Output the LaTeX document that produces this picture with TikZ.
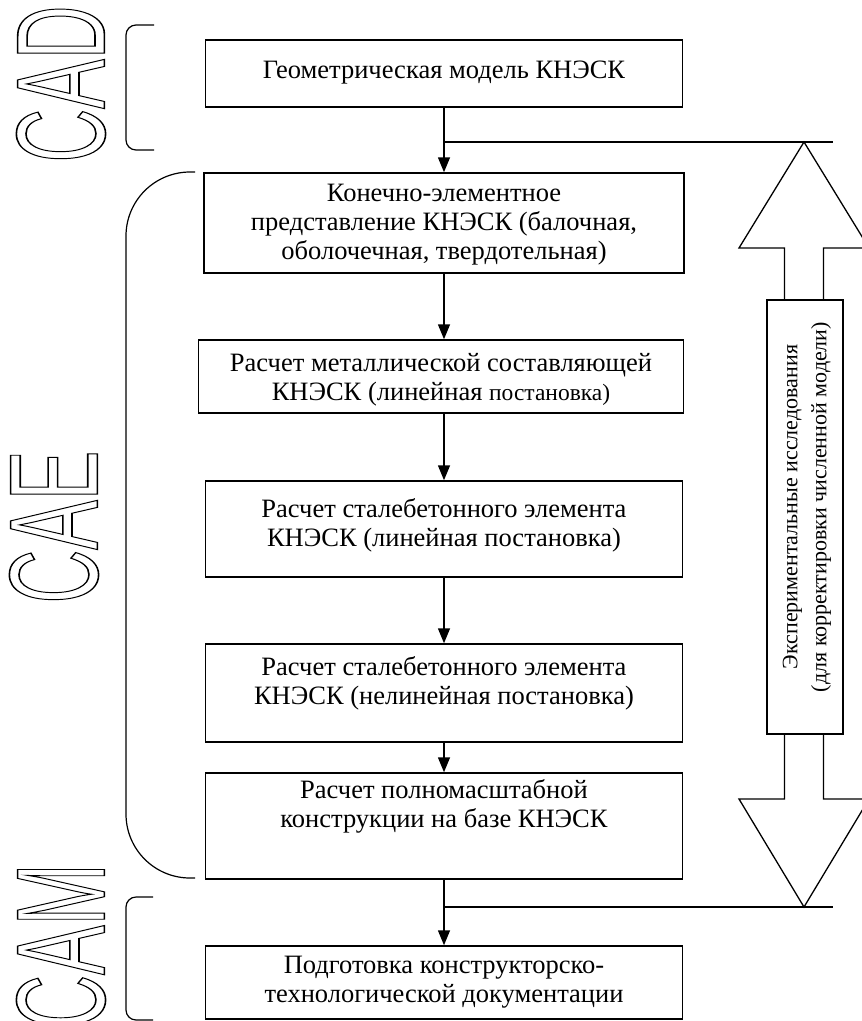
\documentclass[tikz,border=0pt]{standalone}
\usepackage{fontspec}
\setmainfont{Liberation Serif}
\newfontfamily\outlfont{Liberation Sans}
\usetikzlibrary{arrows.meta}
\newcommand{\outltext}[1]{\special{pdf:literal direct 1 Tr 1.6 w}#1\special{pdf:literal direct 0 Tr}}
\tikzset{
  blk/.style={draw, line width=1.5pt, inner sep=0pt, align=center},
  txt/.style={inner sep=0pt, align=center, font=\fontsize{26.5}{29}\selectfont},
  conn/.style={line width=1.5pt, -{Triangle[length=15pt,width=12pt]}},
  plain/.style={line width=1.5pt},
  brk/.style={line width=1.2pt},
  outl/.style={inner sep=0pt, rotate=90, font=\outlfont\fontsize{126}{126}\selectfont},
  expbox/.style={draw, line width=1.3pt, inner sep=0pt, minimum width=76pt, minimum height=434pt},
  exptxt/.style={inner sep=0pt, rotate=90, align=center, font=\fontsize{22}{29}\selectfont},
  barrow/.style={line width=1.3pt, line join=miter}
}
\begin{document}
\begin{tikzpicture}[x=1pt,y=-1pt]
\useasboundingbox (0,0) rectangle (862,1021);
% boxes
\node[blk, minimum width=477pt, minimum height=67pt] (b1) at (444,73.5) {};
\node[blk, minimum width=480pt, minimum height=100pt] (b2) at (444,223) {};
\node[blk, minimum width=485pt, minimum height=73pt] (b3) at (441,376.5) {};
\node[blk, minimum width=477pt, minimum height=96pt] (b4) at (444,529) {};
\node[blk, minimum width=477pt, minimum height=98pt] (b5) at (444,693) {};
\node[blk, minimum width=477pt, minimum height=106pt] (b6) at (444,826) {};
\node[blk, minimum width=477pt, minimum height=73pt] (b7) at (444,982.5) {};
% texts
\node[txt] (t1) at (444,73) {Геометрическая модель КНЭСК};
\node[txt] (t2) at (444,225) {Конечно-элементное\\представление КНЭСК (балочная,\\оболочечная, твердотельная)};
\node[txt] (t3) at (441,380) {Расчет металлической составляющей\\КНЭСК (линейная {\fontsize{23.5}{29}\selectfont постановка)}};
\node[txt] (t4) at (444,525) {Расчет сталебетонного элемента\\КНЭСК (линейная постановка)};
\node[txt] (t5) at (444,683) {Расчет сталебетонного элемента\\КНЭСК (нелинейная постановка)};
\node[txt] (t6) at (444,806) {Расчет полномасштабной\\конструкции на базе КНЭСК};
\node[txt] (t7) at (444,982) {Подготовка конструкторско-\\технологической документации};
% connectors
\coordinate (j1) at (444,142);
\coordinate (e1) at (833,142);
\coordinate (j2) at (444,907);
\coordinate (e2) at (833,907);
\draw[conn] (b1.south) -- (b1.south |- b2.north);
\draw[conn] (b2.south) -- (b2.south |- b3.north);
\draw[conn] (b3.south -| b2.south) -- (b2.south |- b4.north);
\draw[conn] (b4.south) -- (b5.north);
\draw[conn] (b5.south) -- (b6.north);
\draw[conn] (b6.south) -- (b7.north);
\draw[plain] (j1) -- (e1);
\draw[plain] (j2) -- (e2);
% experimental double arrow
\node[expbox] (exp) at (805,517) {};
\node[exptxt] (expt) at (807,507) {Экспериментальные исследования\\(для корректировки численной модели)};
\draw[barrow] (exp.north -| 784.5,0) -- (784.5,248) -- (739,248) -- (804,142) -- (869,248) -- (823.5,248) -- (exp.north -| 823.5,0);
\draw[barrow] (exp.south -| 784.5,0) -- (784.5,799) -- (739,799) -- (804,907) -- (869,799) -- (823.5,799) -- (exp.south -| 823.5,0);
% brackets
\draw[brk, rounded corners=10pt] (154,25) -- (126,25) -- (126,150) -- (154,150);
\draw[brk, rounded corners=64pt] (195,172) -- (126,172) -- (126,878) -- (195,878);
\draw[brk, rounded corners=10pt] (153,897) -- (126,897) -- (126,1020) -- (153,1020);
% outline labels
\node[outl] (cad) at (61,84) {\scalebox{0.59}[1]{\outltext{CAD}}};
\node[outl] (cae) at (54,527) {\scalebox{0.59}[1]{\outltext{CAE}}};
\node[outl] (cam) at (61,946) {\scalebox{0.59}[1]{\outltext{CAM}}};
\end{tikzpicture}
\end{document}
